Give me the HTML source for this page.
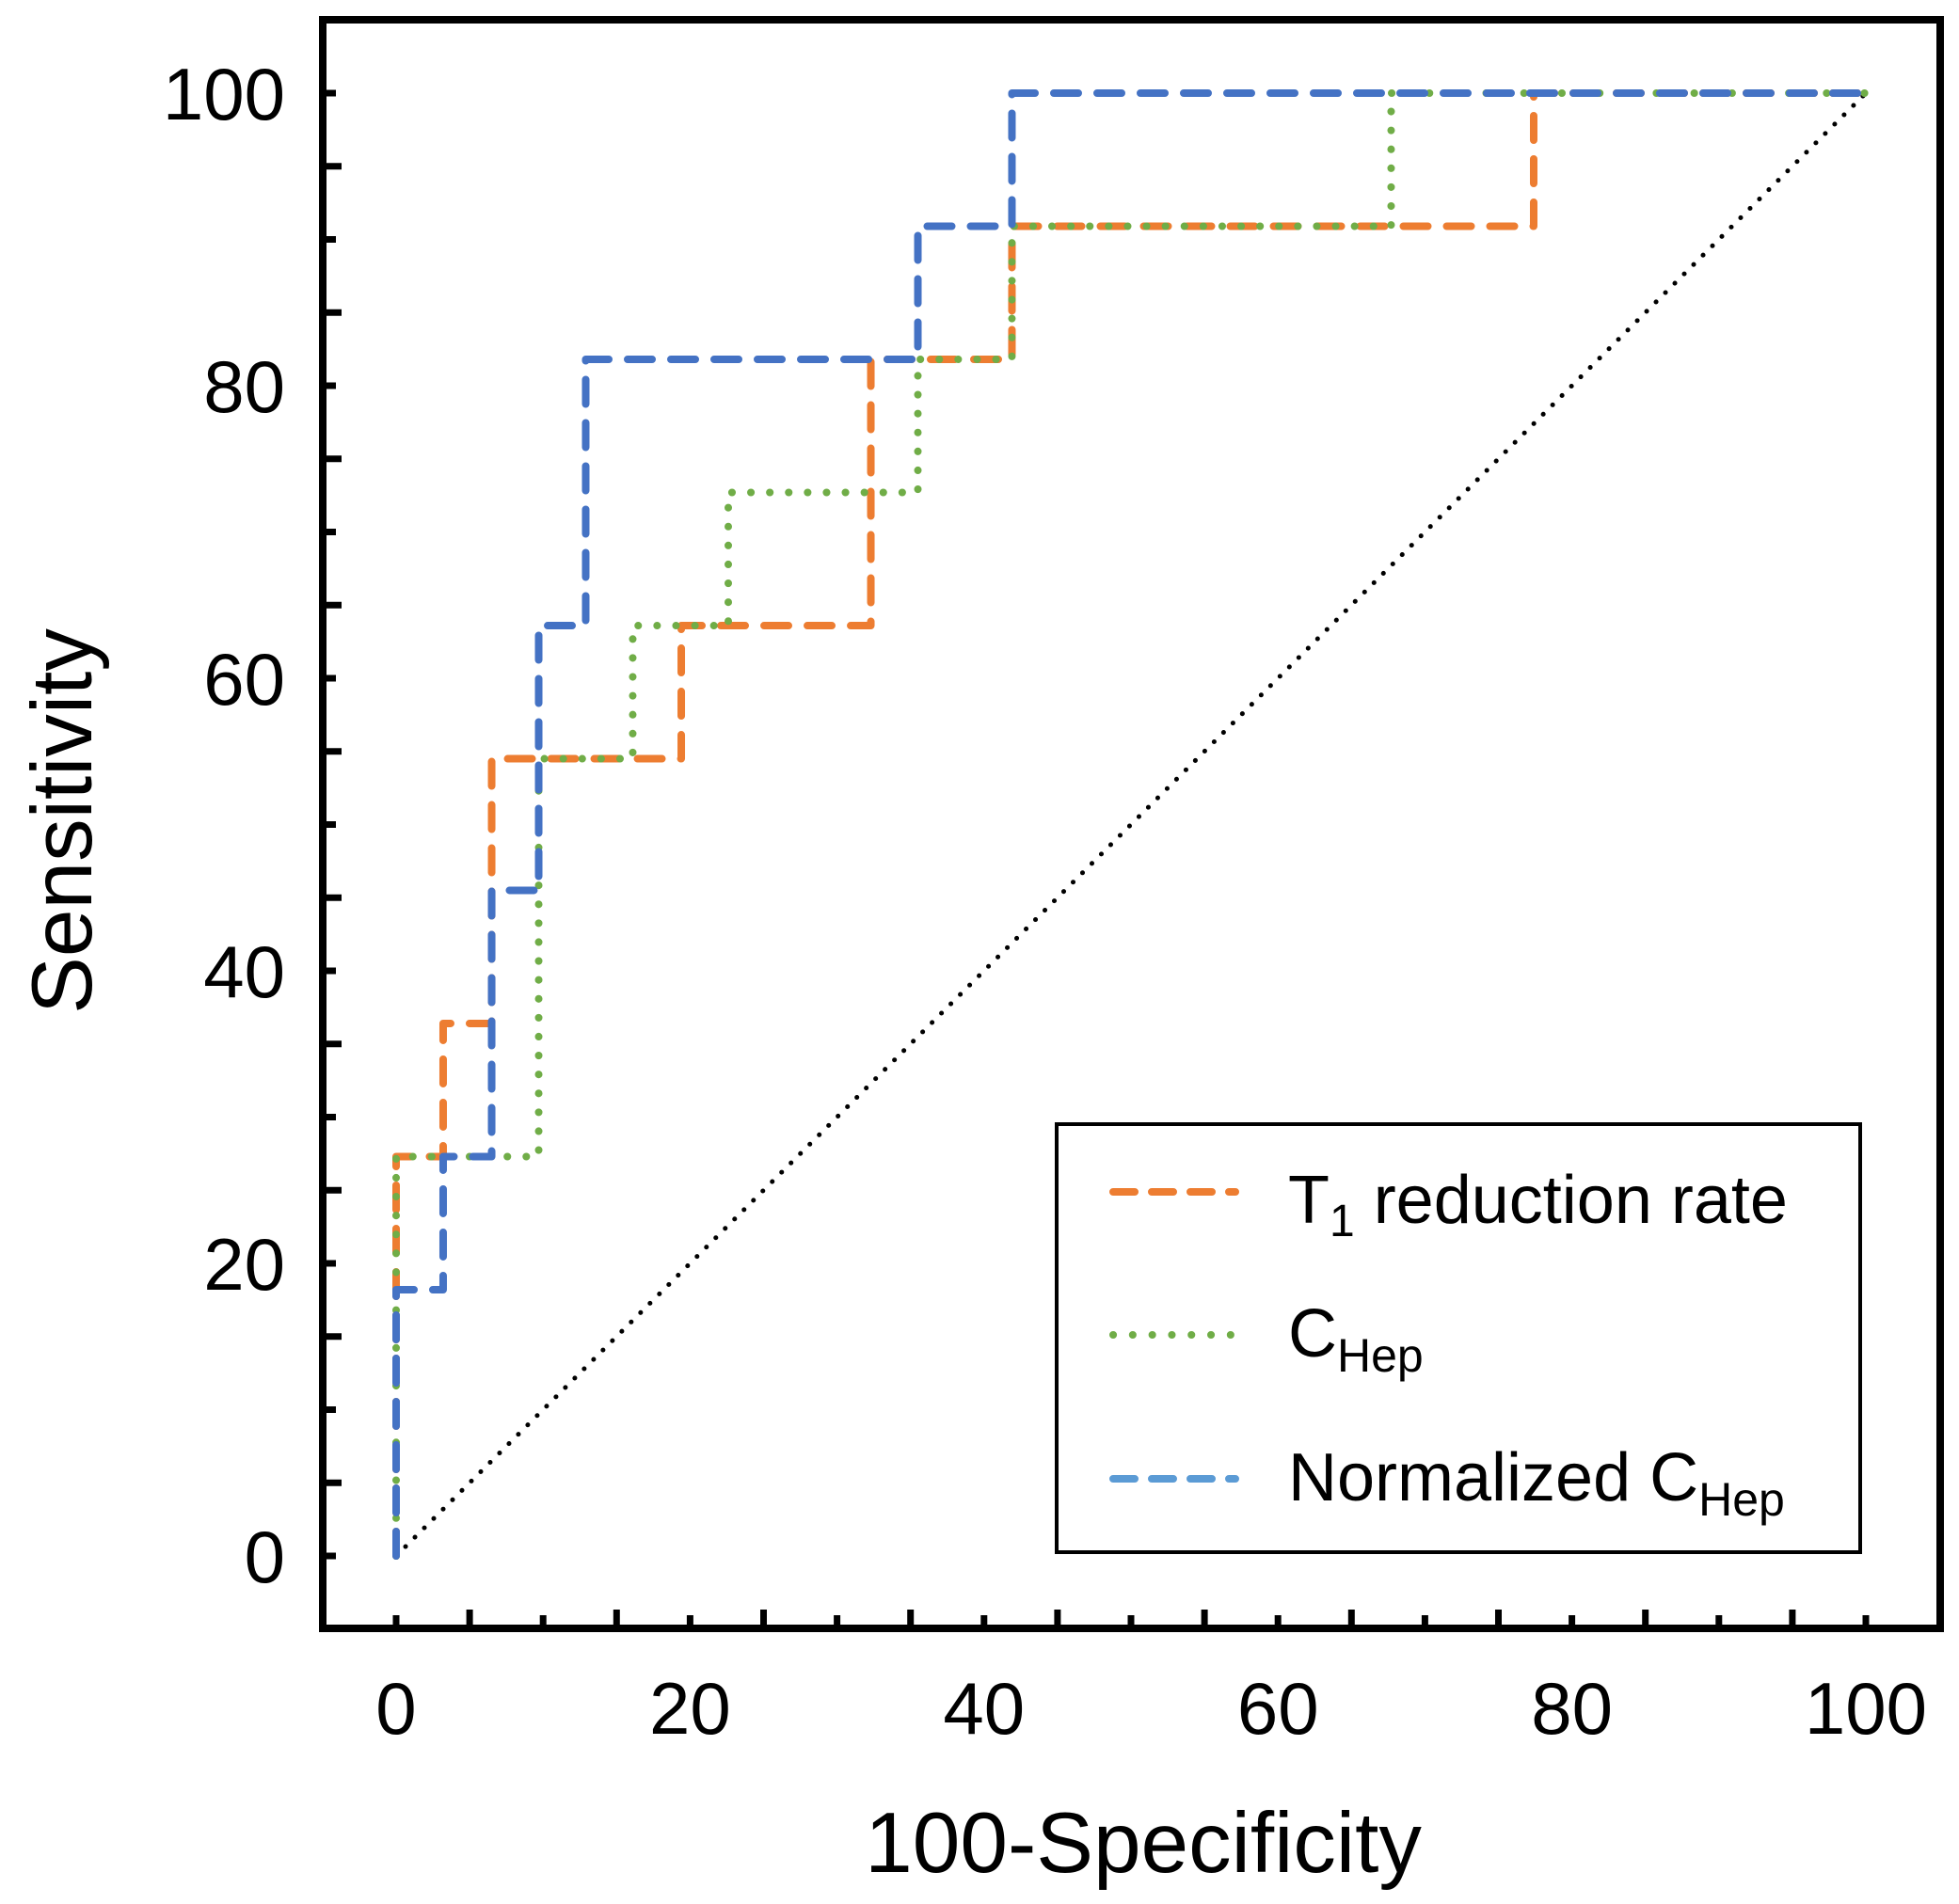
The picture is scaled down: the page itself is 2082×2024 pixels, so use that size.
<!DOCTYPE html>
<html><head><meta charset="utf-8"><style>
html,body{margin:0;padding:0;background:#fff}
svg{display:block}
text{font-family:"Liberation Sans",Arial,sans-serif;fill:#000}
</style></head><body>
<svg id="chart" width="2082" height="2024" viewBox="0 0 2082 2024" xmlns="http://www.w3.org/2000/svg">
<g id="plot"></g>
</svg>
<script>
const xTicks=[0,20,40,60,80,100];
const yTicks=[0,20,40,60,80,100];
const orangeX=[0,0,3.2,3.2,6.5,6.5,19.4,19.4,32.3,32.3,41.9,41.9,77.4,77.4,100];
const orangeY=[0,27.3,27.3,36.4,36.4,54.5,54.5,63.6,63.6,81.8,81.8,90.9,90.9,100,100];
const greenX=[0,0,9.7,9.7,16.1,16.1,22.6,22.6,35.5,35.5,41.9,41.9,67.7,67.7,100];
const greenY=[0,27.3,27.3,54.5,54.5,63.6,63.6,72.7,72.7,81.8,81.8,90.9,90.9,100,100];
const blueX=[0,0,3.2,3.2,6.5,6.5,9.7,9.7,12.9,12.9,35.5,35.5,41.9,41.9,100];
const blueY=[0,18.2,18.2,27.3,27.3,45.5,45.5,63.6,63.6,81.8,81.8,90.9,90.9,100,100];
const refX=[0,100];
const refY=[0,100];

const NS="http://www.w3.org/2000/svg";
const X0=421,X1=1983,Y0=1654,Y1=99;
function sx(v){return X0+(X1-X0)*v/100;}
function sy(v){return Y0-(Y0-Y1)*v/100;}
const g=document.getElementById('plot');
function mk(tag,attrs,parent){const e=document.createElementNS(NS,tag);for(const k in attrs)e.setAttribute(k,attrs[k]);(parent||g).appendChild(e);return e;}

let fr=mk('rect',{x:343,y:21,width:1719,height:1710,fill:'none',stroke:'#000','stroke-width':8});



for(let v=0;v<=100;v+=5){
  const L=(v%10===0)?10:16;
  let t=mk('line',{x1:sx(v),x2:sx(v),y1:1727,y2:1727-L,stroke:'#000','stroke-width':7});
  
  
  let t2=mk('line',{x1:347,x2:347+L,y1:sy(v),y2:sy(v),stroke:'#000','stroke-width':7});
  
  
}
xTicks.forEach(v=>{
  let t=mk('text',{x:sx(v),y:1843,'font-size':78,'text-anchor':'middle'});
  t.textContent=v;
  
  
});
yTicks.forEach(v=>{
  let t=mk('text',{x:303,y:sy(v)+28,'font-size':78,'text-anchor':'end'});
  t.textContent=v;
  
  
});
let xt=mk('text',{x:1215,y:1990,'font-size':91,'text-anchor':'middle'});
xt.textContent='100-Specificity';


let yt=mk('text',{x:0,y:0,'font-size':91,'text-anchor':'middle',transform:'translate(97,873) rotate(-90)'});
yt.textContent='Sensitivity';



function pts(xs,ys){return xs.map((x,i)=>sx(x)+','+sy(ys[i])).join(' ');}
let ref=mk('polyline',{points:pts(refX,refY),fill:'none',stroke:'#000','stroke-width':5,'stroke-dasharray':'0.1 14','stroke-linecap':'round'});


let po=mk('polyline',{points:pts(orangeX,orangeY),fill:'none',stroke:'#ED7D31','stroke-width':8,'stroke-dasharray':'26 20','stroke-linecap':'round','stroke-linejoin':'round'});


let pg=mk('polyline',{points:pts(greenX,greenY),fill:'none',stroke:'#70AD47','stroke-width':8,'stroke-dasharray':'0.1 20','stroke-linecap':'round'});


let pb=mk('polyline',{points:pts(blueX,blueY),fill:'none',stroke:'#4472C4','stroke-width':8,'stroke-dasharray':'26 20','stroke-linecap':'round','stroke-linejoin':'round'});



let lg=mk('g',{});


let lb=mk('rect',{x:1123,y:1195,width:854,height:455,fill:'#fff',stroke:'#000','stroke-width':4},lg);


let l1=mk('line',{x1:1183,x2:1313,y1:1267,y2:1267,stroke:'#ED7D31','stroke-width':8,'stroke-dasharray':'23 18','stroke-linecap':'round'},lg);


let l2=mk('line',{x1:1183,x2:1313,y1:1419,y2:1419,stroke:'#70AD47','stroke-width':8,'stroke-dasharray':'0.1 20.7','stroke-linecap':'round'},lg);


let l3=mk('line',{x1:1183,x2:1313,y1:1572,y2:1572,stroke:'#5B9BD5','stroke-width':8,'stroke-dasharray':'23 18','stroke-linecap':'round'},lg);


let t1=mk('text',{x:1369,y:1300,'font-size':72},lg);
t1.innerHTML='T<tspan font-size="48" dy="14">1</tspan><tspan dy="-14"> reduction rate</tspan>';


let t2=mk('text',{x:1369,y:1442,'font-size':72},lg);
t2.innerHTML='C<tspan font-size="50" dy="16">Hep</tspan>';


let t3=mk('text',{x:1369,y:1595,'font-size':72},lg);
t3.innerHTML='Normalized C<tspan font-size="50" dy="16">Hep</tspan>';


</script>
</body></html>
